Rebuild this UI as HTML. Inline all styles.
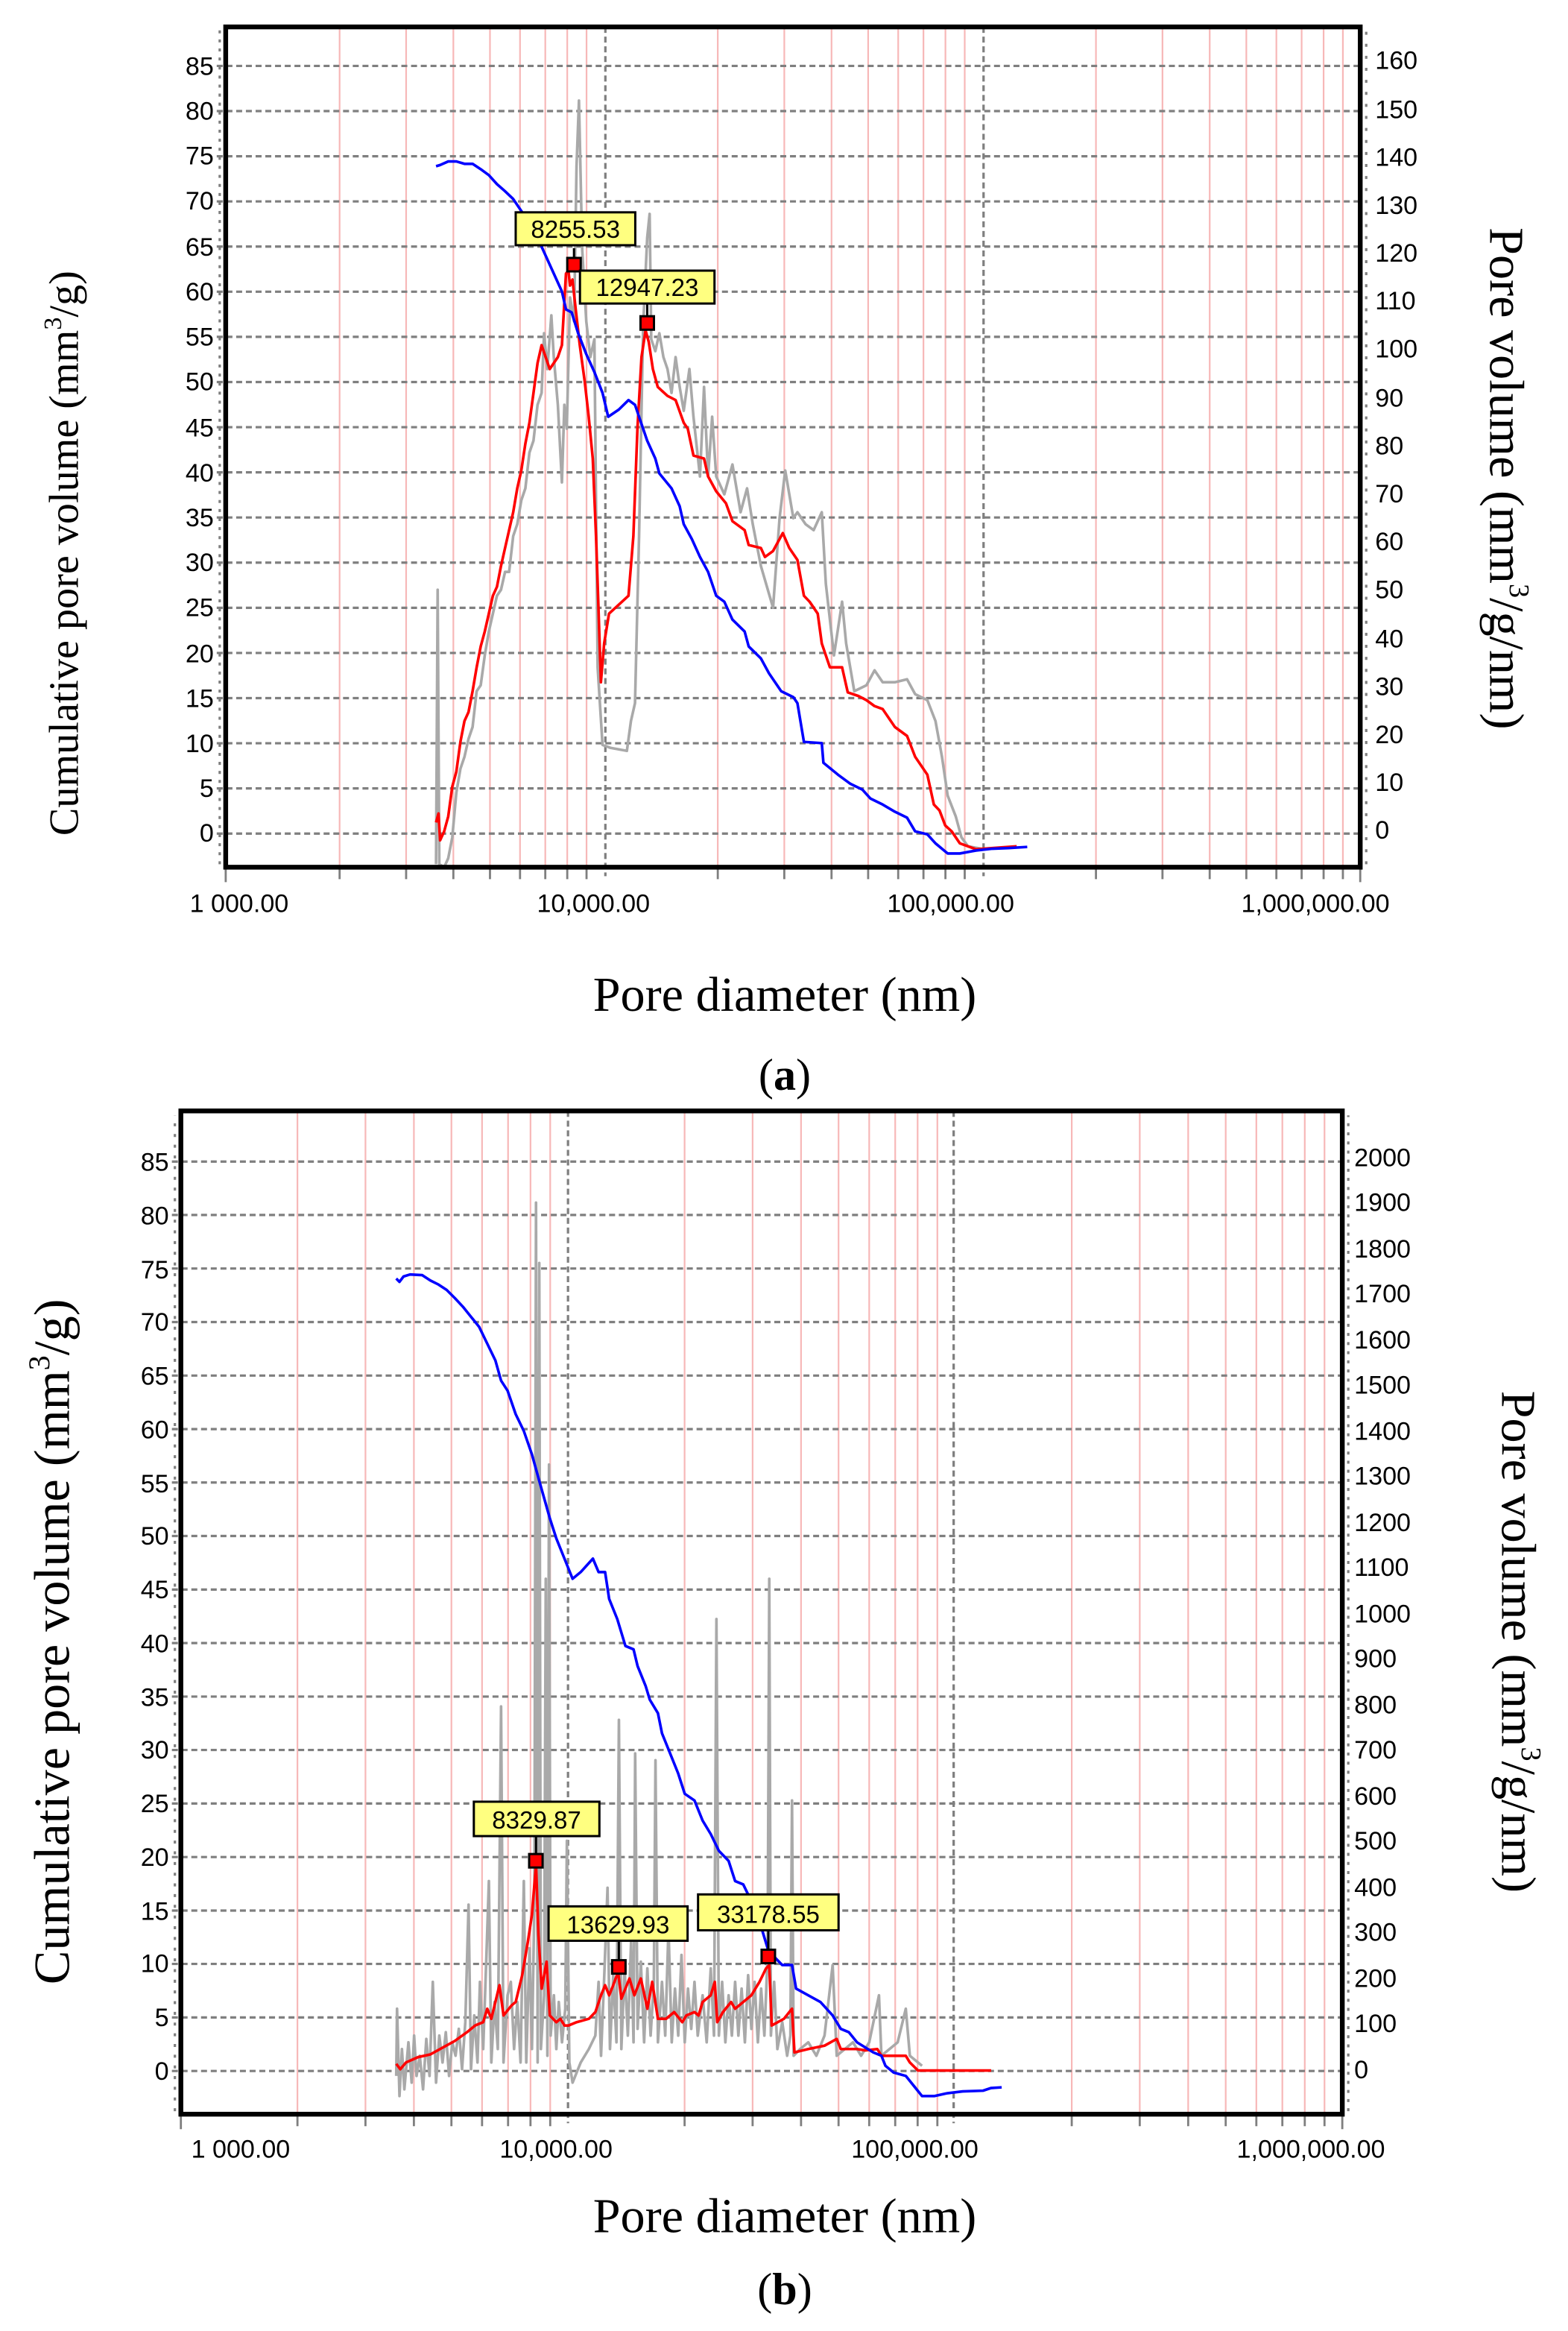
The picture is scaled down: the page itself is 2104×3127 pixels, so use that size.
<!DOCTYPE html>
<html><head><meta charset="utf-8"><style>
html,body{margin:0;padding:0;background:#fff;}
svg{display:block;}
.t{font-family:"Liberation Sans",sans-serif;font-size:17px;fill:#000;}
.ti{font-family:"Liberation Serif",serif;font-size:28px;fill:#000;}
.g{stroke:#7f7f7f;stroke-width:1.6;stroke-dasharray:4 2.5;fill:none;}
.p{stroke:#f7b8b8;stroke-width:1.1;fill:none;}
.c{fill:none;stroke-width:3.6;vector-effect:non-scaling-stroke;stroke-linejoin:round;}
.lb{font-family:"Liberation Sans",sans-serif;font-size:16.5px;fill:#000;}
</style></head><body>
<svg width="2104" height="3127" viewBox="0 0 1049 1559" preserveAspectRatio="none" xmlns="http://www.w3.org/2000/svg">
<rect width="1049" height="1559" fill="#fff"/>

<!-- ===== CHART A ===== -->
<path class="p" d="M227.2 18V580M271.7 18V580M303.3 18V580M327.8 18V580M347.9 18V580M364.8 18V580M379.5 18V580M392.4 18V580M480.2 18V580M524.7 18V580M556.3 18V580M580.8 18V580M600.9 18V580M617.8 18V580M632.5 18V580M645.4 18V580M733.2 18V580M777.7 18V580M809.3 18V580M833.8 18V580M853.9 18V580M870.8 18V580M885.5 18V580M898.4 18V580"/>
<path class="g" d="M405 18V586M658 18V586"/>
<path class="g" d="M145 557.5H910M145 527.3H910M145 497.1H910M145 466.9H910M145 436.7H910M145 406.5H910M145 376.3H910M145 346.1H910M145 315.9H910M145 285.7H910M145 255.5H910M145 225.3H910M145 195.1H910M145 164.9H910M145 134.7H910M145 104.5H910M145 74.3H910M145 44.1H910"/>
<line x1="147" y1="578" x2="147" y2="20" stroke="#7f7f7f" stroke-width="1.6" stroke-dasharray="2 4.04"/>
<line x1="914" y1="578" x2="914" y2="20" stroke="#7f7f7f" stroke-width="1.6" stroke-dasharray="2 6.04"/>
<path stroke="#7f7f7f" stroke-width="1.4" d="M227.2 580v8M271.7 580v8M303.3 580v8M327.8 580v8M347.9 580v8M364.8 580v8M379.5 580v8M392.4 580v8M480.2 580v8M524.7 580v8M556.3 580v8M580.8 580v8M600.9 580v8M617.8 580v8M632.5 580v8M645.4 580v8M733.2 580v8M777.7 580v8M809.3 580v8M833.8 580v8M853.9 580v8M870.8 580v8M885.5 580v8M898.4 580v8M151 580v10M910 580v10"/>

<g transform="translate(98.84,-0.556) scale(0.5433,0.399)">
<polyline class="c" stroke="#a9a9a9" points="355,1450 357,990 359,1450 365,1455 370,1440 375,1405 380,1330 385,1290 390,1270 395,1240 400,1220 405,1160 410,1150 415,1100 420,1060 425,1030 430,1000 435,990 440,960 445,960 450,900 455,880 460,840 465,820 470,760 475,740 480,680 485,660 488,560 492,620 497,530 500,600 505,680 510,810 513,680 516,720 520,500 525,540 528,280 531,170 535,420 540,540 545,600 550,570 554,1120 560,1250 570,1255 590,1260 595,1210 600,1180 605,900 610,550 615,400 618,360 620,570 625,590 630,560 635,600 640,620 645,660 650,600 655,650 660,690 667,620 672,700 680,800 685,650 690,800 695,700 700,800 710,830 720,780 730,860 738,820 745,880 755,950 770,1020 778,870 785,790 790,830 795,870 800,860 810,880 820,890 830,860 835,980 845,1100 855,1010 860,1080 870,1160 885,1150 895,1125 905,1145 920,1145 935,1140 945,1165 960,1175 970,1210 978,1270 985,1335 995,1370 1002,1405 1010,1420 1030,1425"/>
<polyline class="c" stroke="#ff0000" points="355,1380 358,1365 360,1410 365,1395 370,1370 375,1320 380,1295 385,1245 390,1210 395,1195 400,1160 405,1120 410,1085 415,1060 420,1030 425,1000 430,985 435,950 440,920 445,890 450,860 455,820 460,790 465,745 470,710 475,660 480,610 485,580 490,600 495,620 500,610 505,600 510,580 515,460 518,455 520,480 523,470 527,520 532,580 538,640 543,700 548,770 552,900 555,1020 558,1145 562,1080 568,1030 580,1015 592,1000 598,900 603,720 608,600 613,555 617,575 622,620 628,650 640,665 650,672 660,710 665,720 672,765 685,770 690,800 700,825 712,845 720,875 735,890 740,915 755,920 760,935 770,925 782,895 790,920 800,940 808,1000 815,1010 825,1030 830,1080 840,1120 855,1120 862,1162 875,1168 885,1175 895,1185 905,1190 920,1220 935,1235 945,1270 960,1300 968,1350 975,1360 982,1385 990,1395 1000,1415 1020,1425 1040,1423 1070,1420"/>
<polyline class="c" stroke="#0000ff" points="355,280 360,278 370,272 380,272 390,276 400,276 410,285 420,295 430,310 440,322 450,335 460,355 470,375 480,400 490,430 500,460 510,490 515,520 522,525 530,560 540,595 550,625 560,660 567,700 580,688 592,672 600,680 605,700 615,740 625,770 630,795 645,820 655,850 660,880 670,905 680,935 690,960 700,1000 710,1010 720,1040 735,1060 740,1085 755,1105 765,1130 780,1160 795,1170 800,1180 808,1245 830,1247 832,1280 850,1300 865,1315 880,1325 890,1340 905,1350 920,1362 935,1372 945,1395 960,1400 970,1415 985,1432 1000,1432 1020,1427 1040,1424 1060,1423 1083,1421"/>
</g>
<!-- markers A -->
<line x1="384" y1="166" x2="384" y2="178" stroke="#000" stroke-width="1.5"/>
<rect x="379.5" y="172.5" width="9" height="9" fill="#ff0000" stroke="#000" stroke-width="1.5"/>
<rect x="345" y="142" width="80" height="22" fill="#ffff80" stroke="#000" stroke-width="1.5"/>
<text class="lb" x="385" y="159" text-anchor="middle">8255.53</text>
<line x1="433" y1="203" x2="433" y2="216" stroke="#000" stroke-width="1.5"/>
<rect x="428.5" y="211.5" width="9" height="9" fill="#ff0000" stroke="#000" stroke-width="1.5"/>
<rect x="388" y="181" width="90" height="22" fill="#ffff80" stroke="#000" stroke-width="1.5"/>
<text class="lb" x="433" y="198" text-anchor="middle">12947.23</text>

<rect x="151" y="18" width="759" height="562" fill="none" stroke="#000" stroke-width="3.2"/>
<g class="t" text-anchor="end">
<text x="143" y="563">0</text><text x="143" y="533">5</text><text x="143" y="503">10</text><text x="143" y="473">15</text><text x="143" y="443">20</text><text x="143" y="412">25</text><text x="143" y="382">30</text><text x="143" y="352">35</text><text x="143" y="322">40</text><text x="143" y="292">45</text><text x="143" y="261">50</text><text x="143" y="231">55</text><text x="143" y="201">60</text><text x="143" y="171">65</text><text x="143" y="140">70</text><text x="143" y="110">75</text><text x="143" y="80">80</text><text x="143" y="50">85</text>
</g>
<g class="t">
<text x="920" y="561">0</text><text x="920" y="529">10</text><text x="920" y="497">20</text><text x="920" y="465">30</text><text x="920" y="433">40</text><text x="920" y="400">50</text><text x="920" y="368">60</text><text x="920" y="336">70</text><text x="920" y="304">80</text><text x="920" y="272">90</text><text x="920" y="239">100</text><text x="920" y="207">110</text><text x="920" y="175">120</text><text x="920" y="143">130</text><text x="920" y="111">140</text><text x="920" y="79">150</text><text x="920" y="46">160</text>
</g>
<g class="t" text-anchor="middle">
<text x="160" y="610">1 000.00</text><text x="397" y="610">10,000.00</text><text x="636" y="610">100,000.00</text><text x="880" y="610">1,000,000.00</text>
</g>
<text class="ti" transform="translate(52,370) rotate(-90)" text-anchor="middle">Cumulative pore volume (mm<tspan font-size="17" dy="-11">3</tspan><tspan dy="11">/g)</tspan></text>
<text class="ti" style="font-size:33px" transform="translate(997,320) rotate(90)" text-anchor="middle">Pore volume (mm<tspan font-size="19" dy="-13">3</tspan><tspan dy="13">/g/nm)</tspan></text>
<text class="ti" style="font-size:33px" x="525" y="676" text-anchor="middle">Pore diameter (nm)</text>
<text class="ti" style="font-size:30px" x="525" y="729" text-anchor="middle">(<tspan font-weight="bold">a</tspan>)</text>

<!-- ===== CHART B ===== -->
<path class="p" d="M199 743V1414M244.5 743V1414M276.9 743V1414M302 743V1414M322.5 743V1414M339.9 743V1414M354.9 743V1414M368.1 743V1414M458 743V1414M503.5 743V1414M535.9 743V1414M561 743V1414M581.5 743V1414M598.9 743V1414M613.9 743V1414M627.1 743V1414M717 743V1414M762.5 743V1414M794.9 743V1414M820 743V1414M840.5 743V1414M857.9 743V1414M872.9 743V1414M886.1 743V1414"/>
<path class="g" d="M380 743V1420M638 743V1420"/>
<path class="g" d="M115 1385.1H898M115 1349.3H898M115 1313.5H898M115 1277.8H898M115 1242H898M115 1206.2H898M115 1170.4H898M115 1134.7H898M115 1098.9H898M115 1063.1H898M115 1027.3H898M115 991.5H898M115 955.8H898M115 920H898M115 884.2H898M115 848.4H898M115 812.6H898M115 776.9H898"/>
<line x1="117" y1="1412" x2="117" y2="746" stroke="#7f7f7f" stroke-width="1.6" stroke-dasharray="2 5.16"/>
<line x1="902" y1="1412" x2="902" y2="746" stroke="#7f7f7f" stroke-width="1.6" stroke-dasharray="2 4.1"/>
<path stroke="#7f7f7f" stroke-width="1.4" d="M199 1414v8M244.5 1414v8M276.9 1414v8M302 1414v8M322.5 1414v8M339.9 1414v8M354.9 1414v8M368.1 1414v8M458 1414v8M503.5 1414v8M535.9 1414v8M561 1414v8M581.5 1414v8M598.9 1414v8M613.9 1414v8M627.1 1414v8M717 1414v8M762.5 1414v8M794.9 1414v8M820 1414v8M840.5 1414v8M857.9 1414v8M872.9 1414v8M886.1 1414v8M121 1414v10M898 1414v10"/>

<g transform="translate(100.34,741.4) scale(0.5437,0.4493)">
<polyline class="c" stroke="#a9a9a9" points="303,1440 304,1340 307,1470 310,1400 313,1460 318,1390 322,1450 325,1380 328,1440 332,1410 336,1460 340,1385 344,1440 348,1300 352,1450 356,1380 360,1420 364,1375 368,1440 372,1390 376,1410 380,1370 384,1430 388,1360 392,1185 395,1430 399,1350 403,1420 406,1300 410,1400 414,1260 417,1150 420,1420 424,1330 428,1400 432,890 435,1420 440,1320 444,1300 448,1400 452,1330 456,1420 460,1150 463,1420 467,1250 470,1400 473,1180 475,140 477,1420 479,230 481,1400 485,1320 487,700 489,1410 491,530 493,1380 497,1320 500,1400 503,1330 507,1390 511,1340 513,1090 516,1420 520,1450 530,1420 540,1400 548,1380 552,1300 555,1410 559,1290 563,1160 566,1400 570,1290 574,1390 577,910 580,1400 584,1280 588,1380 592,1240 595,1390 597,960 600,1370 604,1270 608,1390 612,1280 616,1380 620,1300 622,970 625,1390 630,1300 634,1380 638,1220 642,1390 646,1310 650,1380 654,1260 658,1390 662,1310 666,1370 670,1300 674,1380 680,1320 685,1390 690,1280 694,1380 697,760 700,1380 704,1300 708,1390 712,1320 716,1380 720,1300 724,1380 728,1310 732,1390 736,1290 740,1370 744,1300 748,1390 752,1310 756,1380 760,1260 762,700 764,1380 768,1300 772,1400 778,1360 784,1410 788,1380 790,1030 792,1410 800,1400 810,1390 820,1410 830,1380 840,1275 845,1410 855,1400 865,1390 875,1410 885,1390 897,1320 900,1410 910,1400 920,1390 930,1340 935,1410 945,1420 950,1425"/>
<polyline class="c" stroke="#ff0000" points="303,1422 308,1430 315,1420 330,1412 345,1408 360,1398 375,1388 390,1375 400,1365 410,1360 415,1340 420,1355 430,1305 435,1350 445,1335 450,1330 458,1290 465,1240 470,1200 475,1125 478,1230 482,1310 488,1270 492,1350 500,1360 505,1355 510,1365 515,1365 525,1360 540,1355 548,1345 555,1320 560,1305 565,1320 570,1305 576,1285 580,1325 590,1295 596,1320 604,1295 612,1340 618,1300 625,1355 635,1355 645,1345 655,1360 660,1350 670,1345 675,1350 680,1330 690,1320 695,1300 698,1360 705,1345 715,1330 720,1340 730,1330 740,1320 750,1300 758,1280 762,1275 765,1365 780,1355 790,1340 793,1405 810,1400 830,1395 845,1385 850,1400 870,1400 880,1402 895,1400 900,1410 930,1410 935,1420 945,1432 990,1432 1035,1432"/>
<polyline class="c" stroke="#0000ff" points="303,253 307,258 312,250 320,247 335,248 345,256 355,262 365,270 375,282 385,295 395,310 405,325 415,350 425,375 432,405 440,420 450,455 460,480 470,515 478,550 485,580 492,610 500,640 510,670 520,700 530,690 545,670 552,690 560,690 565,730 575,760 585,800 595,805 600,830 610,860 615,880 625,900 630,930 640,960 650,990 658,1020 670,1030 680,1060 690,1080 700,1105 712,1120 720,1150 730,1155 740,1180 750,1210 760,1250 770,1265 778,1275 790,1275 795,1310 810,1320 825,1330 840,1350 850,1370 860,1375 870,1390 890,1405 900,1410 905,1425 915,1435 930,1440 940,1455 950,1470 965,1470 980,1466 1000,1463 1025,1462 1035,1458 1048,1457"/>
</g>
<!-- markers B -->
<line x1="358.6" y1="1228" x2="358.6" y2="1245" stroke="#000" stroke-width="1.5"/>
<rect x="354" y="1240" width="9" height="9" fill="#ff0000" stroke="#000" stroke-width="1.5"/>
<rect x="317" y="1205" width="84" height="23" fill="#ffff80" stroke="#000" stroke-width="1.5"/>
<text class="lb" x="359" y="1223" text-anchor="middle">8329.87</text>
<line x1="414" y1="1298" x2="414" y2="1316" stroke="#000" stroke-width="1.5"/>
<rect x="409.5" y="1311" width="9" height="9" fill="#ff0000" stroke="#000" stroke-width="1.5"/>
<rect x="367" y="1275" width="93" height="23" fill="#ffff80" stroke="#000" stroke-width="1.5"/>
<text class="lb" x="413.5" y="1293" text-anchor="middle">13629.93</text>
<line x1="514" y1="1291" x2="514" y2="1309" stroke="#000" stroke-width="1.5"/>
<rect x="509.5" y="1304" width="9" height="9" fill="#ff0000" stroke="#000" stroke-width="1.5"/>
<rect x="467" y="1267" width="94" height="24" fill="#ffff80" stroke="#000" stroke-width="1.5"/>
<text class="lb" x="514" y="1286" text-anchor="middle">33178.55</text>

<rect x="121" y="743" width="777" height="671" fill="none" stroke="#000" stroke-width="3.2"/>
<g class="t" text-anchor="end">
<text x="113" y="1391">0</text><text x="113" y="1355">5</text><text x="113" y="1319">10</text><text x="113" y="1284">15</text><text x="113" y="1248">20</text><text x="113" y="1212">25</text><text x="113" y="1176">30</text><text x="113" y="1141">35</text><text x="113" y="1105">40</text><text x="113" y="1069">45</text><text x="113" y="1033">50</text><text x="113" y="998">55</text><text x="113" y="962">60</text><text x="113" y="926">65</text><text x="113" y="890">70</text><text x="113" y="855">75</text><text x="113" y="819">80</text><text x="113" y="783">85</text>
</g>
<g class="t">
<text x="906" y="1390">0</text><text x="906" y="1359">100</text><text x="906" y="1329">200</text><text x="906" y="1298">300</text><text x="906" y="1268">400</text><text x="906" y="1237">500</text><text x="906" y="1207">600</text><text x="906" y="1176">700</text><text x="906" y="1146">800</text><text x="906" y="1115">900</text><text x="906" y="1085">1000</text><text x="906" y="1054">1100</text><text x="906" y="1024">1200</text><text x="906" y="993">1300</text><text x="906" y="963">1400</text><text x="906" y="932">1500</text><text x="906" y="902">1600</text><text x="906" y="871">1700</text><text x="906" y="841">1800</text><text x="906" y="810">1900</text><text x="906" y="780">2000</text>
</g>
<g class="t" text-anchor="middle">
<text x="161" y="1443">1 000.00</text><text x="372" y="1443">10,000.00</text><text x="612" y="1443">100,000.00</text><text x="877" y="1443">1,000,000.00</text>
</g>
<text class="ti" style="font-size:34px" transform="translate(46,1098) rotate(-90)" text-anchor="middle">Cumulative pore volume (mm<tspan font-size="20" dy="-13">3</tspan><tspan dy="13">/g)</tspan></text>
<text class="ti" style="font-size:33px" transform="translate(1005,1098) rotate(90)" text-anchor="middle">Pore volume (mm<tspan font-size="19" dy="-13">3</tspan><tspan dy="13">/g/nm)</tspan></text>
<text class="ti" style="font-size:33px" x="525" y="1493" text-anchor="middle">Pore diameter (nm)</text>
<text class="ti" style="font-size:30px" x="525" y="1541" text-anchor="middle">(<tspan font-weight="bold">b</tspan>)</text>
</svg>
</body></html>
